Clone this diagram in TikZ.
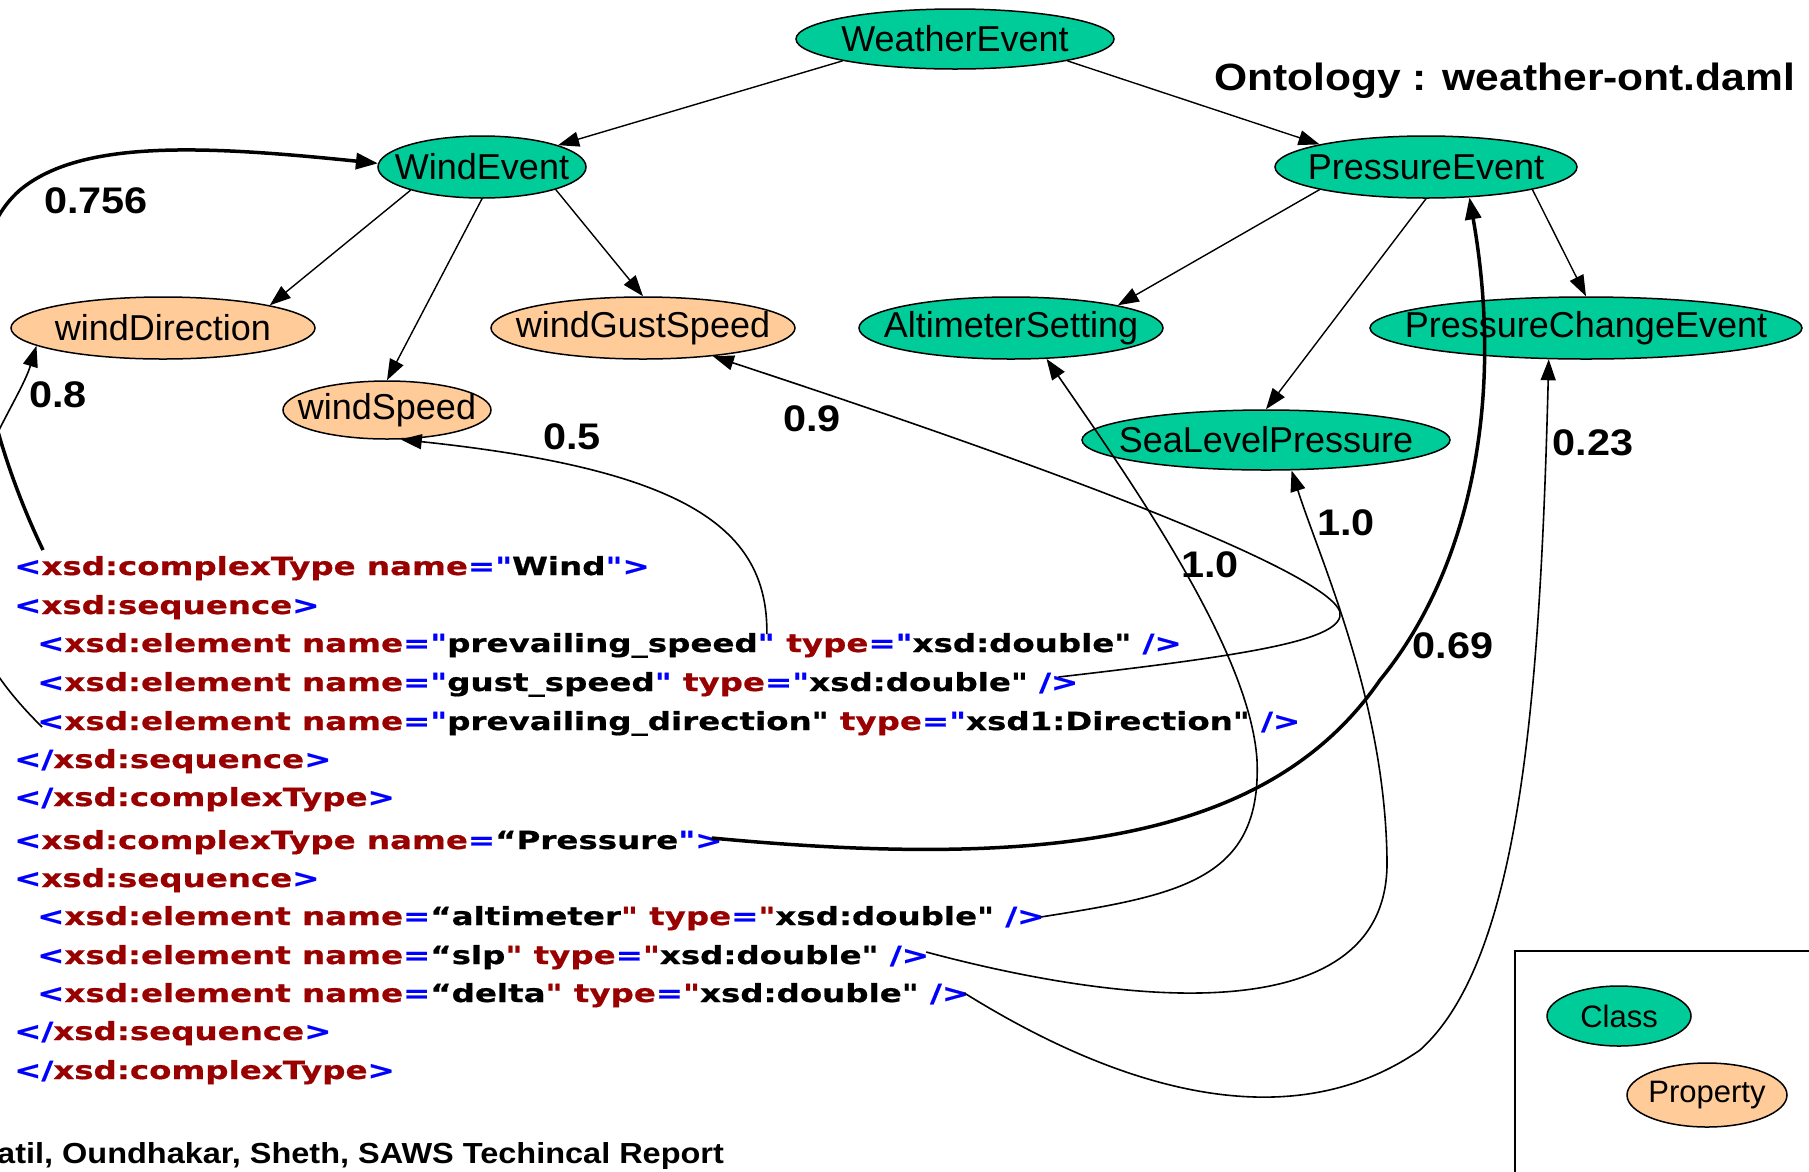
\documentclass[tikz,border=0pt]{standalone}
\usepackage{fontspec}
\setmainfont{Liberation Sans}
\newfontfamily\xmlf[FakeStretch=1.3,FakeBold=0.7,Ligatures=TeXOff]{DejaVu Sans}
\newfontfamily\lblf[FakeStretch=1.12]{Liberation Sans}
\usetikzlibrary{shapes.geometric,arrows.meta,calc}
\definecolor{xblue}{RGB}{0,0,255}
\definecolor{xred}{RGB}{153,0,0}
\definecolor{clsg}{RGB}{0,204,153}
\definecolor{propo}{RGB}{255,204,153}
\newcommand\xb[1]{\textcolor{xblue}{#1}}
\newcommand\xr[1]{\textcolor{xred}{#1}}
\newcommand\myfs[1]{\fontsize{#1}{#1}\selectfont}
\tikzset{
 onode/.style={ellipse, draw=black, line width=1.5pt, inner sep=0pt, font=\myfs{36}},
 cls/.style={onode, fill=clsg},
 prop/.style={onode, fill=propo},
 tree/.style={-{Triangle[length=21pt,width=15pt]}, line width=1.4pt},
 map/.style={-{Triangle[length=21pt,width=15pt]}, line width=1.6pt},
 mapthick/.style={-{Triangle[length=22pt,width=16pt]}, line width=3.5pt},
 lbl/.style={font=\lblf\bfseries\myfs{37}, inner sep=0pt},
 xml/.style={font=\xmlf\bfseries\myfs{25}, inner sep=0pt, anchor=base west},
}
\begin{document}
\begin{tikzpicture}[x=1pt,y=-1pt]
\useasboundingbox (0,0) rectangle (1809,1171);
\fill[white] (0,0) rectangle (1809,1171);
\clip (0,0) rectangle (1809,1171);

% ontology nodes
\node[cls, minimum width=318pt, minimum height=60pt] (WeatherEvent) at (955,39) {\makebox[0pt]{WeatherEvent}};
\node[cls, minimum width=208pt, minimum height=62pt] (WindEvent) at (482,167) {\makebox[0pt]{WindEvent}};
\node[cls, minimum width=302pt, minimum height=62pt] (PressureEvent) at (1426,167) {\makebox[0pt]{PressureEvent}};
\node[prop, minimum width=304pt, minimum height=62pt] (windDirection) at (163,328) {\makebox[0pt]{windDirection}};
\node[prop, minimum width=304pt, minimum height=62pt] (windGustSpeed) at (643,328) {\makebox[0pt]{windGustSpeed}};
\node[cls, minimum width=304pt, minimum height=62pt] (AltimeterSetting) at (1011,328) {\makebox[0pt]{AltimeterSetting}};
\node[cls, minimum width=432pt, minimum height=62pt] (PressureChangeEvent) at (1586,328) {\makebox[0pt]{PressureChangeEvent}};
\node[prop, minimum width=208pt, minimum height=58pt] (windSpeed) at (387,410) {\makebox[0pt]{windSpeed}};
\node[cls, minimum width=368pt, minimum height=60pt] (SeaLevelPressure) at (1266,440) {\makebox[0pt]{SeaLevelPressure}};

% title
\node[inner sep=0pt, anchor=base west, font=\lblf\bfseries\myfs{38}] (title) at (1214,90) {Ontology : weather-ont.daml};

% tree edges
\draw[tree] (WeatherEvent.191) -- (WindEvent.16);
\draw[tree] (WeatherEvent.349) -- (PressureEvent.168);
\draw[tree] (WindEvent.198) -- (windDirection.12);
\draw[tree] (WindEvent.270) -- (windSpeed.90);
\draw[tree] (WindEvent.343) -- (windGustSpeed.90);
\draw[tree] (PressureEvent.192) -- (AltimeterSetting.12);
\draw[tree] (PressureEvent.270) -- (SeaLevelPressure.90);
\draw[tree] (PressureEvent.348) -- (PressureChangeEvent.90);

% XML text
\node[xml] (L1) at (14,575) {\xb{<}\xr{xsd:complexType name}\xb{="}Wind\xb{">}};
\node[xml] (L2) at (14,614) {\xb{<}\xr{xsd:sequence}\xb{>}};
\node[xml] (L3a) at (37,652) {\xb{<}\xr{xsd:element name}\xb{="}prevailing\_speed\xb{"}};
\node[xml] (L3b) at (L3a.base east) {\xr{\ type}\xb{="}xsd:double" \xb{/>}};
\node[xml] (L4) at (37,691) {\xb{<}\xr{xsd:element name}\xb{="}gust\_speed\xb{"}\xr{\ type}\xb{="}xsd:double" \xb{/>}};
\node[xml] (L5) at (37,730) {\xb{<}\xr{xsd:element name}\xb{="}prevailing\_direction" \xr{type}\xb{="}xsd1:Direction" \xb{/>}};
\node[xml] (L6) at (14,768) {\xb{</}\xr{xsd:sequence}\xb{>}};
\node[xml] (L7) at (14,806) {\xb{</}\xr{xsd:complexType}\xb{>}};
\node[xml] (L8) at (14,849) {\xb{<}\xr{xsd:complexType name}\xb{=}“Pressure\xb{">}};
\node[xml] (L9) at (14,887) {\xb{<}\xr{xsd:sequence}\xb{>}};
\node[xml] (L10) at (37,925) {\xb{<}\xr{xsd:element name}\xb{=}“altimeter\xr{"} \xr{type}\xb{=}\xr{"}xsd:double" \xb{/>}};
\node[xml] (L11) at (37,964) {\xb{<}\xr{xsd:element name}\xb{=}“slp\xr{"} \xr{type}\xb{=}\xr{"}xsd:double" \xb{/>}};
\node[xml] (L12) at (37,1002) {\xb{<}\xr{xsd:element name}\xb{=}“delta\xr{"} \xr{type}\xb{=}\xr{"}xsd:double" \xb{/>}};
\node[xml] (L13) at (14,1040) {\xb{</}\xr{xsd:sequence}\xb{>}};
\node[xml] (L14) at (14,1079) {\xb{</}\xr{xsd:complexType}\xb{>}};

\node[inner sep=0pt, anchor=base west, font=\lblf\bfseries\myfs{29}] (cite) at (-3,1163) {atil, Oundhakar, Sheth, SAWS Techincal Report};

% start points of mappings
\coordinate (s756) at ($(L1.base west)+(29,-25)$);
\coordinate (s8) at ($(L5.base west)+(5,-3)$);
\coordinate (s5) at ($(L3a.base east)+(-8,-18)$);
\coordinate (s9) at ($(L4.base east)+(-20,-14)$);
\coordinate (s10) at ($(L10.base east)+(-4,-8)$);
\coordinate (s11) at ($(L11.base east)+(-3,-12)$);
\coordinate (s23) at ($(L12.base east)+(-5,-9)$);
\coordinate (s69) at ($(L8.base east)+(-11,-11)$);

% mappings
\draw[mapthick] (s756) .. controls (-10,440) and (-60,260) .. (20,190) .. controls (80,140) and (200,145) .. (WindEvent.178);
\draw[map] (s8) .. controls (10,695) and (-40,640) .. (-40,560) .. controls (-40,480) and (20,400) .. (windDirection.188);
\draw[map] (s5) .. controls (768,530) and (690,470) .. (windSpeed.295);
\draw[map] (s9) .. controls (1250,655) and (1345,640) .. (1340,612) .. controls (1330,580) and (1150,500) .. (windGustSpeed.338);
\draw[map] (s10) .. controls (1180,895) and (1262,880) .. (1257,760) .. controls (1250,650) and (1130,480) .. (AltimeterSetting.319);
\draw[map] (s11) .. controls (1150,1012) and (1390,1025) .. (1387,860) .. controls (1385,700) and (1320,560) .. (SeaLevelPressure.310);
\draw[map] (s23) .. controls (1120,1090) and (1290,1140) .. (1420,1050) .. controls (1520,960) and (1540,700) .. (PressureChangeEvent.220);
\draw[mapthick] (s69) .. controls (1050,870) and (1270,840) .. (1380,680) .. controls (1470,570) and (1505,400) .. (PressureEvent.325);

% labels
\node[lbl] (l756) at (96,201) {0.756};
\node[lbl] (l8) at (58,395) {0.8};
\node[lbl] (l5) at (572,437) {0.5};
\node[lbl] (l9) at (812,419) {0.9};
\node[lbl] (l23) at (1593,443) {0.23};
\node[lbl] (l10a) at (1346,523) {1.0};
\node[lbl] (l10b) at (1210,565) {1.0};
\node[lbl] (l69) at (1453,646) {0.69};

% legend
\draw[line width=1.6pt] (1515,1200) -- (1515,951) -- (1830,951);
\node[cls, minimum width=144pt, minimum height=60pt, font=\myfs{31}] (Class) at (1619,1016) {\makebox[0pt]{Class}};
\node[prop, minimum width=160pt, minimum height=64pt, font=\myfs{31}] (Property) at (1707,1095) {\makebox[0pt]{Property}};
\end{tikzpicture}
\end{document}
